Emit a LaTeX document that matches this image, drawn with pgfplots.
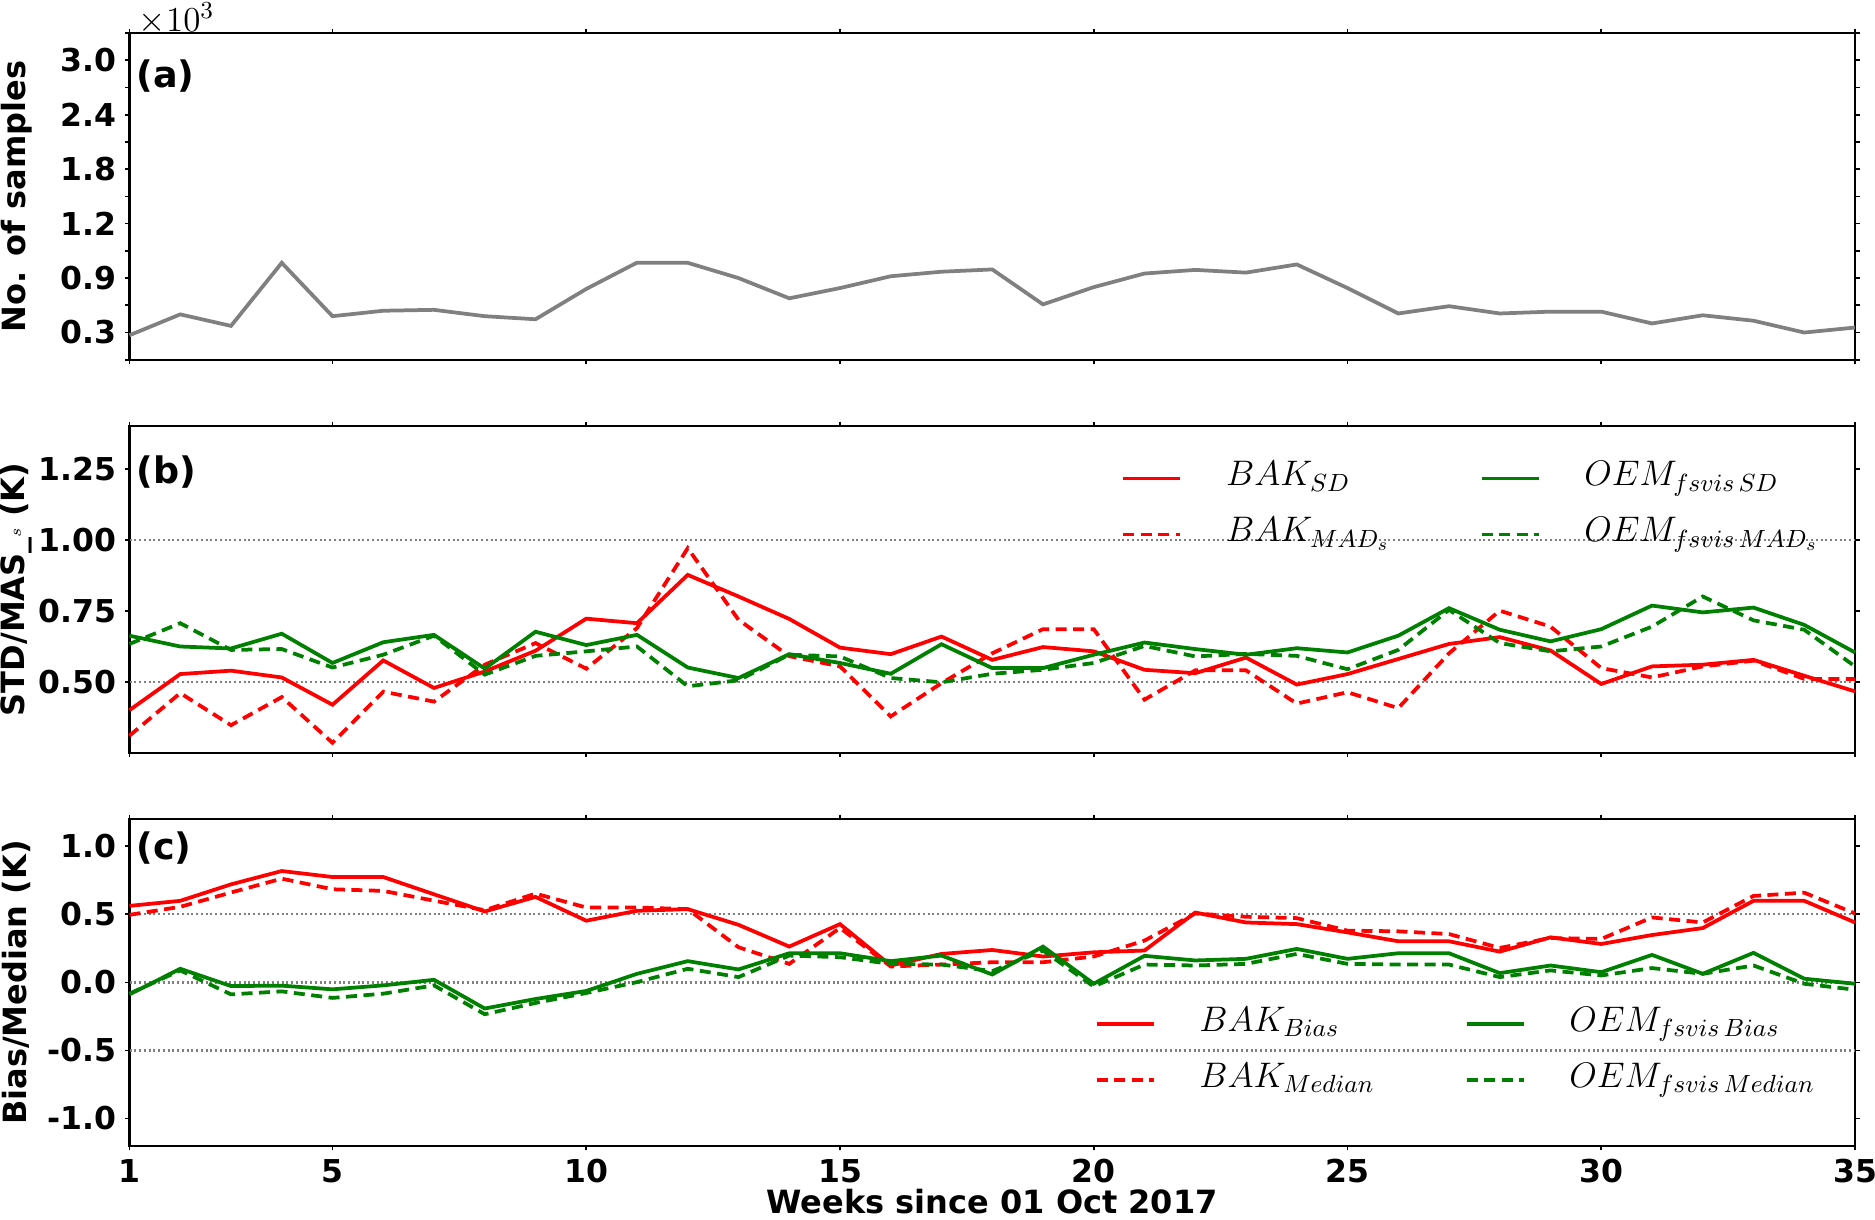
\RequirePackage{fix-cm}
\documentclass[border=0pt]{standalone}
\usepackage{pgfplots}
\pgfplotsset{compat=1.18}
\usepackage{pgfplotstable}
\usepackage{fontspec}
\setmainfont{DejaVu Sans}

\definecolor{mplgreen}{RGB}{0,128,0}
\definecolor{mplgray}{RGB}{128,128,128}

\pgfplotstableread{
w n
1 -0.03
2 0.20
3 0.073
4 0.768
5 0.18
6 0.24
7 0.25
8 0.18
9 0.146
10 0.48
11 0.77
12 0.768
13 0.60
14 0.377
15 0.49
16 0.62
17 0.67
18 0.695
19 0.31
20 0.50
21 0.65
22 0.69
23 0.66
24 0.75
25 0.49
26 0.21
27 0.29
28 0.21
29 0.23
30 0.23
31 0.10
32 0.19
33 0.13
34 0.0
35 0.055
}\tabA

\pgfplotstableread{
w bsd bmad osd omad
1 0.400 0.310 0.662 0.633
2 0.527 0.460 0.624 0.706
3 0.539 0.347 0.617 0.612
4 0.515 0.446 0.669 0.615
5 0.419 0.285 0.566 0.550
6 0.575 0.465 0.639 0.595
7 0.478 0.430 0.665 0.662
8 0.536 0.560 0.546 0.525
9 0.609 0.636 0.676 0.591
10 0.722 0.546 0.629 0.607
11 0.706 0.689 0.665 0.624
12 0.876 0.970 0.550 0.484
13 0.800 0.718 0.513 0.505
14 0.721 0.590 0.597 0.595
15 0.620 0.554 0.566 0.589
16 0.597 0.378 0.528 0.513
17 0.659 0.495 0.632 0.498
18 0.577 0.600 0.548 0.528
19 0.622 0.685 0.548 0.542
20 0.607 0.685 0.595 0.566
21 0.542 0.437 0.638 0.626
22 0.530 0.540 0.615 0.589
23 0.585 0.540 0.595 0.598
24 0.490 0.423 0.618 0.591
25 0.527 0.463 0.603 0.544
26 0.580 0.407 0.662 0.612
27 0.633 0.600 0.759 0.753
28 0.657 0.750 0.683 0.636
29 0.610 0.694 0.642 0.607
30 0.492 0.548 0.685 0.624
31 0.554 0.515 0.768 0.694
32 0.560 0.554 0.744 0.800
33 0.577 0.574 0.761 0.716
34 0.521 0.510 0.700 0.683
35 0.466 0.510 0.603 0.554
}\tabB

\pgfplotstableread{
w bb bm ob om
1 0.562 0.496 -0.088 -0.083
2 0.599 0.555 0.100 0.088
3 0.720 0.660 -0.027 -0.088
4 0.818 0.762 -0.024 -0.066
5 0.774 0.684 -0.051 -0.114
6 0.774 0.672 -0.022 -0.083
7 0.647 0.600 0.019 -0.022
8 0.521 0.530 -0.192 -0.234
9 0.628 0.652 -0.122 -0.151
10 0.453 0.550 -0.063 -0.078
11 0.526 0.550 0.063 0.002
12 0.538 0.538 0.156 0.100
13 0.423 0.258 0.095 0.039
14 0.263 0.136 0.214 0.197
15 0.428 0.400 0.214 0.185
16 0.124 0.117 0.156 0.136
17 0.209 0.131 0.197 0.131
18 0.238 0.148 0.058 0.083
19 0.190 0.148 0.263 0.234
20 0.221 0.190 -0.010 -0.030
21 0.234 0.307 0.195 0.131
22 0.513 0.506 0.161 0.124
23 0.440 0.482 0.173 0.136
24 0.428 0.472 0.246 0.209
25 0.367 0.380 0.173 0.136
26 0.302 0.375 0.214 0.131
27 0.302 0.355 0.214 0.131
28 0.226 0.253 0.068 0.039
29 0.331 0.326 0.124 0.088
30 0.282 0.319 0.075 0.051
31 0.348 0.477 0.202 0.105
32 0.399 0.440 0.063 0.063
33 0.599 0.635 0.217 0.124
34 0.599 0.659 0.027 -0.010
35 0.440 0.506 -0.010 -0.054
}\tabC

\pgfplotsset{
  panel/.style={
    scale only axis, width=690.2pt, height=130.7pt,
    xmin=1, xmax=35, clip=false,
    xtick={1,5,10,15,20,25,30,35},
    tick align=outside,
    major tick length=1.8pt,
    axis line style={line width=0.9pt},
    every tick/.style={black, line width=0.7pt},
    tick label style={font=\fontsize{12.6}{15}\selectfont\bfseries},
    label style={font=\fontsize{12.8}{15}\selectfont\bfseries},
    every axis y label/.style={at={(axis description cs:-0.0655,0.5)},rotate=90,anchor=center,
      font=\fontsize{12.8}{15}\selectfont\bfseries},
    legend image code/.code={\draw[##1] (0pt,0pt) -- (22.8pt,0pt);},
    legend cell align=left,
    legend columns=2, transpose legend,
    legend style={draw=none, fill=none, inner sep=0pt,
      font=\fontsize{14.2}{16}\selectfont,
      nodes={inner sep=0pt, text height=10pt, text depth=4pt},
      row sep=8.4pt,
      /tikz/every odd column/.append style={column sep=17.6pt},
      /tikz/every even column/.append style={column sep=36pt}},
  },
  dat/.style={line width=1.5pt},
  dsh/.style={line width=1.5pt, dash pattern=on 4.4pt off 2.6pt},
  gridl/.style={mplgray, line width=0.9pt, dash pattern=on 0.8pt off 1.1pt, forget plot},
}
\tikzset{plab/.style={anchor=west, inner sep=0pt, font=\fontsize{14.6}{17}\selectfont\bfseries}}

\begin{document}
\begin{tikzpicture}
\useasboundingbox (0,0) rectangle (750pt,-487.6pt);

% ---------------- (a)
\begin{axis}[panel, at={(51.8pt,-13.2pt)}, anchor=north west,
  ymin=-0.3, ymax=3.3,
  ytick={-0.3,0,0.3,0.6,0.9,1.2,1.5,1.8,2.1,2.4,2.7,3.0,3.3},
  yticklabels={,0.3,,0.9,,1.2,,1.8,,2.4,,3.0,},
  xticklabels={},
  ylabel={No. of samples}]
\addplot[dat, mplgray] table[x=w, y=n] {\tabA};
\node[plab] at (axis cs:1.13,2.83) {(a)};
\node[anchor=base west, inner sep=0pt, font=\fontsize{14}{16}\selectfont] at (rel axis cs:0,1) [xshift=3.6pt, yshift=0.6pt] {$\times10^{3}$};
\end{axis}

% ---------------- (b)
\begin{axis}[panel, at={(51.8pt,-170.4pt)}, anchor=north west,
  ymin=0.25, ymax=1.40,
  ytick={0.5,0.75,1.0,1.25},
  yticklabels={0.50,0.75,1.00,1.25},
  xticklabels={},
  ylabel={STD/MAS\_\raisebox{1.6pt}{$\scriptscriptstyle s$} (K)},
  legend style={at={(axis description cs:0.5746,0.8946)}, anchor=north west}]
\addplot[gridl] coordinates {(1,0.5) (35,0.5)};
\addplot[gridl] coordinates {(1,1.0) (35,1.0)};
\addplot[dat, red] table[x=w, y=bsd] {\tabB};
\addlegendentry{$BAK_{SD}$}
\addplot[dsh, red] table[x=w, y=bmad] {\tabB};
\addlegendentry{$BAK_{MAD_s}$}
\addplot[dat, mplgreen] table[x=w, y=osd] {\tabB};
\addlegendentry{$OEM_{fsvis\,SD}$}
\addplot[dsh, mplgreen] table[x=w, y=omad] {\tabB};
\addlegendentry{$OEM_{fsvis\,MAD_s}$}
\node[plab] at (axis cs:1.13,1.238) {(b)};
\end{axis}

% ---------------- (c)
\begin{axis}[panel, at={(51.8pt,-327.6pt)}, anchor=north west,
  ymin=-1.2, ymax=1.2,
  ytick={-1,-0.5,0,0.5,1},
  yticklabels={-1.0,-0.5,0.0,0.5,1.0},
  xticklabels={1,5,10,15,20,25,30,35},
  xlabel={Weeks since 01 Oct 2017},
  xlabel style={at={(axis description cs:0.5,-0.172)}, anchor=center},
  ylabel={Bias/Median (K)},
  legend style={at={(axis description cs:0.5591,0.428)}, anchor=north west}]
\addplot[gridl] coordinates {(1,0.5) (35,0.5)};
\addplot[gridl] coordinates {(1,0) (35,0)};
\addplot[gridl] coordinates {(1,-0.5) (35,-0.5)};
\addplot[dat, red] table[x=w, y=bb] {\tabC};
\addlegendentry{$BAK_{Bias}$}
\addplot[dsh, red] table[x=w, y=bm] {\tabC};
\addlegendentry{$BAK_{Median}$}
\addplot[dat, mplgreen] table[x=w, y=ob] {\tabC};
\addlegendentry{$OEM_{fsvis\,Bias}$}
\addplot[dsh, mplgreen] table[x=w, y=om] {\tabC};
\addlegendentry{$OEM_{fsvis\,Median}$}
\node[plab] at (axis cs:1.13,0.99) {(c)};
\end{axis}
\end{tikzpicture}
\end{document}
